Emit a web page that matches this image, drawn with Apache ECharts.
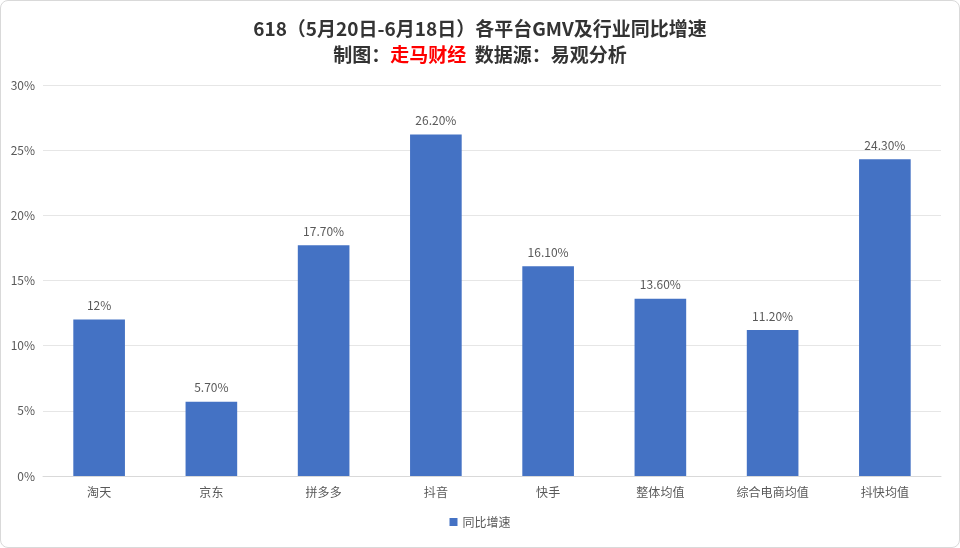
<!DOCTYPE html>
<html><head><meta charset="utf-8">
<script src="https://cdn.jsdelivr.net/npm/echarts@6/dist/echarts.min.js"></script>
<style>html,body{margin:0;padding:0;background:#fff}#c{width:960px;height:548px;box-sizing:border-box;border:1px solid #d9d9d9;border-radius:8px}</style>
</head><body><div id="c"></div>
<script>
const categories = ['淘天','京东','拼多多','抖音','快手','整体均值','综合电商均值','抖快均值'];
const values = [12, 5.7, 17.7, 26.2, 16.1, 13.6, 11.2, 24.3];
const valueLabels = ['12%','5.70%','17.70%','26.20%','16.10%','13.60%','11.20%','24.30%'];
const seriesName = '同比增速';
const chart = echarts.init(document.getElementById('c'));
const font = '"Noto Sans CJK SC", sans-serif';
chart.setOption({
  animation:false,
  textStyle:{fontFamily:font},
  title:{
    text:'618（5月20日-6月18日）各平台GMV及行业同比增速\n{a|制图：}{r|走马财经}{a|  数据源：易观分析}',
    left:'center', top:10,
    textStyle:{fontFamily:font,fontSize:19,fontWeight:'bold',color:'#333',lineHeight:26,
      rich:{a:{fontSize:19,fontWeight:'bold',color:'#333',fontFamily:font},r:{fontSize:19,fontWeight:'bold',color:'#ff0000',fontFamily:font}}}
  },
  grid:{left:42,right:18,top:84,bottom:71,containLabel:false},
  legend:{bottom:14,left:'center',itemWidth:8,itemHeight:8,icon:'rect',textStyle:{fontSize:12,color:'#595959',fontFamily:font},data:[seriesName]},
  xAxis:{type:'category',data:categories,axisTick:{show:false},axisLine:{lineStyle:{color:'#d9d9d9'}},
    axisLabel:{color:'#595959',fontSize:12,margin:10,fontFamily:font}},
  yAxis:{type:'value',min:0,max:30,interval:5,axisLabel:{formatter:'{value}%',color:'#595959',fontSize:12,fontFamily:font},
    splitLine:{lineStyle:{color:'#e6e6e6'}},axisLine:{show:false},axisTick:{show:false}},
  series:[{name:seriesName,type:'bar',barWidth:'46%',itemStyle:{color:'#4472c4'},
    data:values,
    label:{show:true,position:'top',distance:8,color:'#595959',fontSize:12,fontFamily:font,
      formatter:p=>valueLabels[p.dataIndex]}}]
});
</script></body></html>
